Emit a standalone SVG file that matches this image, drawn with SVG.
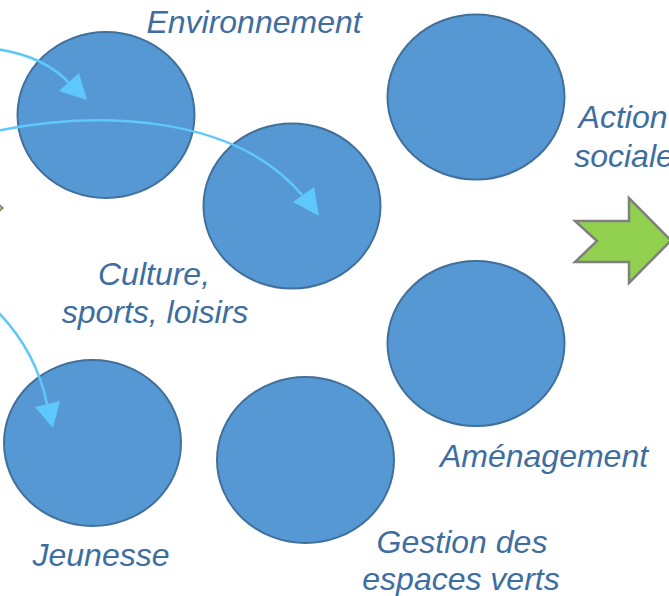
<svg xmlns="http://www.w3.org/2000/svg" width="669" height="596" viewBox="0 0 669 596">
<defs>
<style>
.n{fill:#5698d3;stroke:#41709b;stroke-width:2}
.t{font-family:"Liberation Sans",Arial,sans-serif;font-style:italic;font-size:32px;fill:#3e6e9f;text-anchor:middle}
.c{fill:none;stroke:#5ec8fd;stroke-width:2.5}
</style>
</defs>
<rect width="669" height="596" fill="#ffffff"/>
<g id="n-environnement"><ellipse class="n" cx="106" cy="115" rx="88.5" ry="83"/><text class="t" x="254" y="33">Environnement</text></g>
<g id="n-culture"><ellipse class="n" cx="292" cy="206" rx="88.5" ry="82.5"/><text class="t" x="154" y="285">Culture,</text><text class="t" x="155" y="323">sports, loisirs</text></g>
<g id="n-action"><ellipse class="n" cx="476" cy="97" rx="88.5" ry="82.5"/><text class="t" x="623" y="128">Action</text><text class="t" x="624" y="167">sociale</text></g>
<g id="n-amenagement"><ellipse class="n" cx="476" cy="343.5" rx="88.5" ry="82.5"/><text class="t" x="544" y="467">Aménagement</text></g>
<g id="n-jeunesse"><ellipse class="n" cx="92.5" cy="443" rx="88.5" ry="83"/><text class="t" x="101" y="566">Jeunesse</text></g>
<g id="n-gestion"><ellipse class="n" cx="305.5" cy="460" rx="88.5" ry="83"/><text class="t" x="462" y="553">Gestion des</text><text class="t" x="461" y="590">espaces verts</text></g>
<g id="connectors">
<path class="c" d="M-4,49 Q45,56 70,84"/>
<polygon points="87,100 59,91 79,73" fill="#5ec8fd"/>
<path class="c" d="M-4,131 C100,110 235,115 302,195"/>
<polygon points="319,216 293,202 314,187" fill="#5ec8fd"/>
<path class="c" d="M-2,312 C25,340 40,370 47,404"/>
<polygon points="53,428 35,407 60,401" fill="#5ec8fd"/>
</g>
<g id="green-arrow"><polygon points="575,221 629,221 629,198 671,240.5 629,283 629,262 575,262 597,241" fill="#92d050" stroke="#7f7f7f" stroke-width="2.5"/></g>
<g id="left-tip"><polygon points="-4,202 3,208 -4,214" fill="#92d050" stroke="#7f7f7f" stroke-width="1.5"/></g>
</svg>
